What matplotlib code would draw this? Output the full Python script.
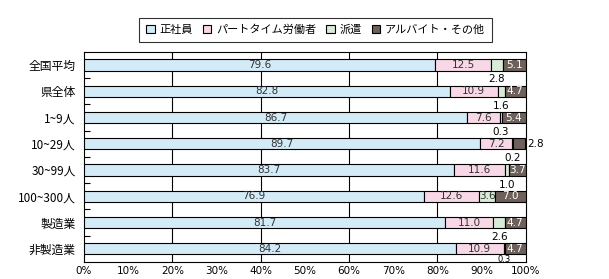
import numpy as np
import matplotlib
matplotlib.use("Agg")
from matplotlib import pyplot as plt
from matplotlib.patches import Patch

plt.rcParams['font.family'] = ['Noto Sans CJK JP', 'DejaVu Sans']

# ---------------------------------------------------------------------------
# Data
# ---------------------------------------------------------------------------
categories = ["全国平均", "県全体", "1~9人", "10~29人", "30~99人", "100~300人", "製造業", "非製造業"]
series_names = ["正社員", "パートタイム労働者", "派遣", "アルバイト・その他"]
regular = [79.6, 82.8, 86.7, 89.7, 83.7, 76.9, 81.7, 84.2]
part_time = [12.5, 10.9, 7.6, 7.2, 11.6, 12.6, 11.0, 10.9]
dispatch = [2.8, 1.6, 0.3, 0.2, 1.0, 3.6, 2.6, 0.3]
other = [5.1, 4.7, 5.4, 2.8, 3.7, 7.0, 4.7, 4.7]
x_ticks = list(range(0, 101, 10))

colors = ["#D3EAF7", "#F8D8E6", "#D7EBD6", "#6E605A"]

# ---------------------------------------------------------------------------
# Plot
# ---------------------------------------------------------------------------
fig = plt.figure(figsize=(6.09, 2.79), dpi=100)
ax = fig.add_axes([0.138, 0.061, 0.725, 0.753])

n = len(categories)
y = np.arange(n)
series = [regular, part_time, dispatch, other]
left = np.zeros(n)
bar_h = 0.43
for vals, col in zip(series, colors):
    ax.barh(y, vals, left=left, height=bar_h, color=col, edgecolor="black", linewidth=0.8, zorder=3)
    left += np.array(vals)

ax.set_ylim(n - 0.5, -0.5)
ax.set_xlim(0, 100)

# value labels
lbl_font = dict(fontsize=7.5, family="DejaVu Sans")
for i in range(n):
    ax.text(regular[i] / 2, i, f"{regular[i]:.1f}", ha="center", va="center", color="#333333", zorder=4, **lbl_font)
    ax.text(regular[i] + part_time[i] / 2, i, f"{part_time[i]:.1f}", ha="center", va="center", color="#333333", zorder=4, **lbl_font)
    d_mid = regular[i] + part_time[i] + dispatch[i] / 2
    if dispatch[i] >= 3:
        ax.text(d_mid, i, f"{dispatch[i]:.1f}", ha="center", va="center", color="#333333", zorder=4, **lbl_font)
    elif i == n - 1:
        ax.text(d_mid, i + 0.42, f"{dispatch[i]:.1f}", ha="center", va="center", color="black", zorder=4,
                fontsize=6, family="DejaVu Sans")
    else:
        ax.text(d_mid, i + 0.55, f"{dispatch[i]:.1f}", ha="center", va="center", color="black", zorder=4, **lbl_font)
    o_mid = 100 - other[i] / 2
    if other[i] >= 3:
        ax.text(o_mid, i, f"{other[i]:.1f}", ha="center", va="center", color="white", zorder=4, **lbl_font)
    else:
        ax.text(100.4, i, f"{other[i]:.1f}", ha="left", va="center", color="black", zorder=4,
                clip_on=False, **lbl_font)

# grid lines
for gx in [20, 40, 60, 80]:
    ax.axvline(gx, color="black", linewidth=0.8, zorder=1)

ax.set_xticks(x_ticks)
ax.set_xticklabels([f"{t}%" for t in x_ticks], fontsize=7.5, family="DejaVu Sans")
ax.tick_params(axis="x", length=0, pad=3)
ax.set_yticks(y)
ax.set_yticklabels(categories, fontsize=8.5)
ax.tick_params(axis="y", which="major", length=0, pad=6)
ax.set_yticks(np.arange(n - 1) + 0.5, minor=True)
ax.tick_params(axis="y", which="minor", direction="in", length=4, width=0.8)
for sp in ax.spines.values():
    sp.set_linewidth(0.8)

handles = [Patch(facecolor=c, edgecolor="black", linewidth=0.8) for c in colors]
leg = fig.legend(handles, series_names, loc="center", bbox_to_anchor=(0.518, 0.893), ncol=4,
                 fontsize=8, frameon=True, fancybox=False, edgecolor="black",
                 handlelength=0.8, handleheight=0.8, handletextpad=0.4, columnspacing=0.9,
                 borderpad=0.6)
leg.get_frame().set_linewidth(0.8)

fig.savefig("out.png", dpi=100)
